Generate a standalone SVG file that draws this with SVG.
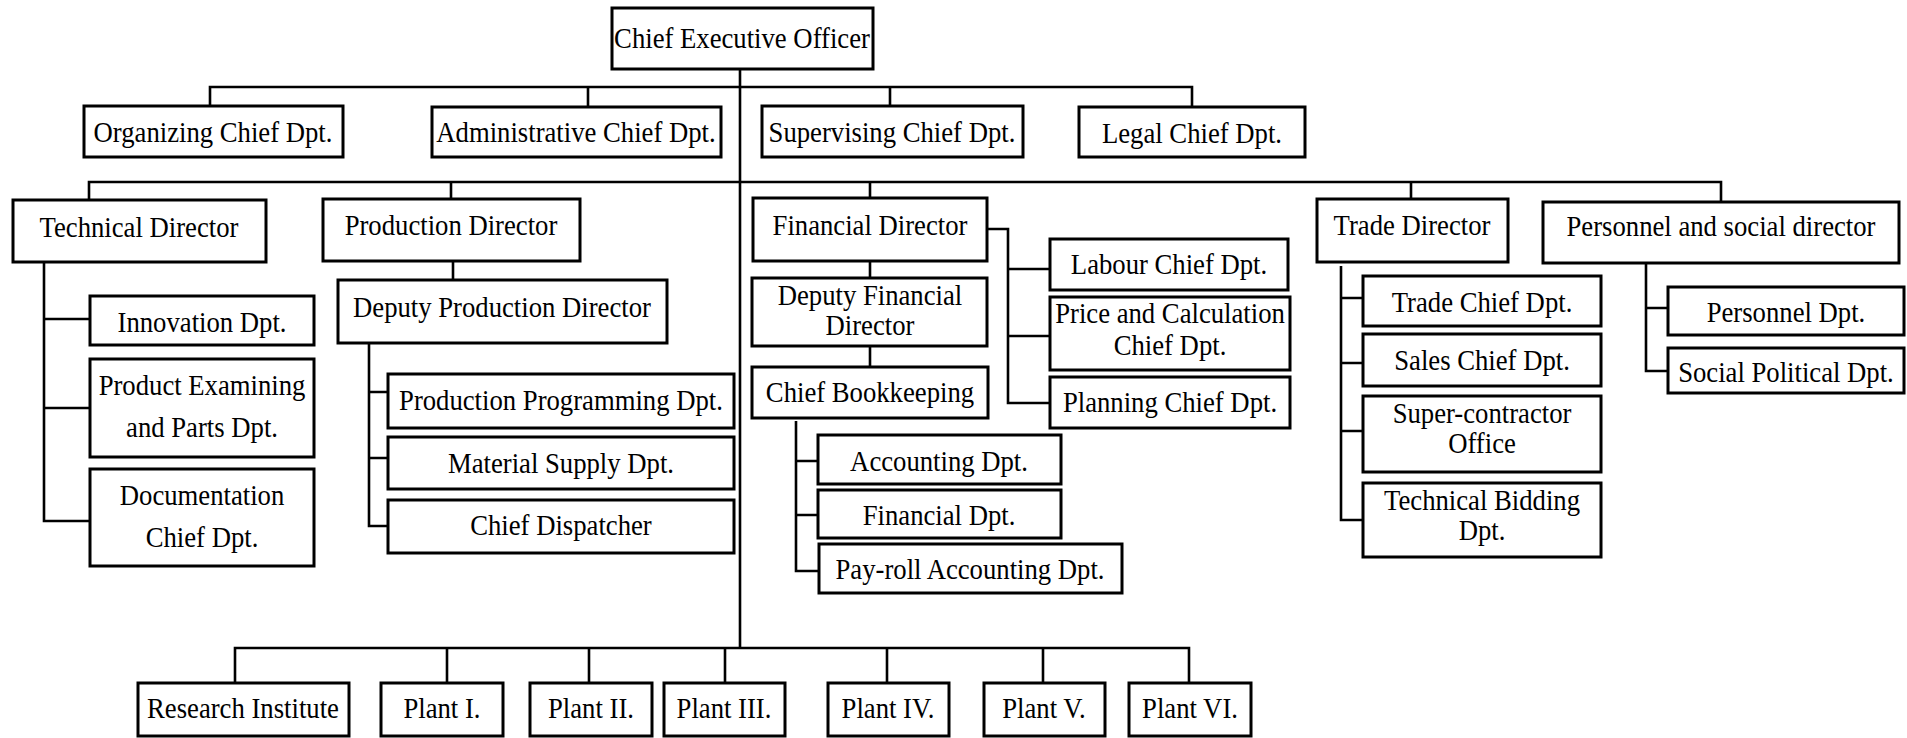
<svg xmlns="http://www.w3.org/2000/svg" width="1907" height="738" viewBox="0 0 1907 738">
<style>
rect{fill:#fff;stroke:#000;stroke-width:3}
text{font-family:"Liberation Serif",serif;font-size:30px;fill:#000;text-anchor:middle}
#connectors path{fill:none;stroke:#000;stroke-width:2.6}
</style>
<rect x="0" y="0" width="1907" height="738" style="stroke:none;fill:#fff"/>
<g id="connectors">
<path d="M740 69V648"/>
<path d="M210 106V87H1192V107M588 87V107M890 87V106"/>
<path d="M89 200V182H1721V202M451 182V199M870 182V198M1411 182V199"/>
<path d="M44 262V521H90M44 319H90M44 408H90"/>
<path d="M453 261V280"/>
<path d="M369 343V526H388M369 392H388M369 458H388"/>
<path d="M870 261V278M870 346V367"/>
<path d="M987 229H1008V403H1050M1008 269H1050M1008 336H1050"/>
<path d="M796 421V571H819M796 461H818M796 515H818"/>
<path d="M1341 266V520H1363M1341 298H1363M1341 363H1363M1341 431H1363"/>
<path d="M1646 263V371H1668M1646 308H1668"/>
<path d="M235 683V648H1189V683M447 648V683M589 648V683M725 648V683M887 648V683M1043 648V683"/>
</g>
<g id="ceo"><rect x="612" y="8" width="261" height="61"/><text transform="scale(0.89,1)" x="833.7" y="48">Chief Executive Officer</text></g>
<g id="organizing"><rect x="84" y="106" width="259" height="51"/><text transform="scale(0.89,1)" x="239.3" y="142">Organizing Chief Dpt.</text></g>
<g id="administrative"><rect x="432" y="107" width="289" height="50"/><text transform="scale(0.89,1)" x="647.2" y="142">Administrative Chief Dpt.</text></g>
<g id="supervising"><rect x="762" y="106" width="261" height="51"/><text transform="scale(0.89,1)" x="1002.2" y="142">Supervising Chief Dpt.</text></g>
<g id="legal"><rect x="1079" y="107" width="226" height="50"/><text transform="scale(0.89,1)" x="1339.3" y="143">Legal Chief Dpt.</text></g>
<g id="technical-director"><rect x="13" y="200" width="253" height="62"/><text transform="scale(0.89,1)" x="156.2" y="237">Technical Director</text></g>
<g id="production-director"><rect x="323" y="199" width="257" height="62"/><text transform="scale(0.89,1)" x="506.7" y="235">Production Director</text></g>
<g id="deputy-production"><rect x="338" y="280" width="329" height="63"/><text transform="scale(0.89,1)" x="564" y="317">Deputy Production Director</text></g>
<g id="innovation"><rect x="90" y="296" width="224" height="49"/><text transform="scale(0.89,1)" x="227" y="332">Innovation Dpt.</text></g>
<g id="product-examining"><rect x="90" y="359" width="224" height="98"/><text transform="scale(0.89,1)" x="227" y="395">Product Examining</text><text transform="scale(0.89,1)" x="227" y="437">and Parts Dpt.</text></g>
<g id="documentation"><rect x="90" y="469" width="224" height="97"/><text transform="scale(0.89,1)" x="227" y="505">Documentation</text><text transform="scale(0.89,1)" x="227" y="547">Chief Dpt.</text></g>
<g id="production-programming"><rect x="388" y="374" width="346" height="54"/><text transform="scale(0.89,1)" x="630.3" y="410">Production Programming Dpt.</text></g>
<g id="material-supply"><rect x="388" y="437" width="346" height="52"/><text transform="scale(0.89,1)" x="630.3" y="473">Material Supply Dpt.</text></g>
<g id="chief-dispatcher"><rect x="388" y="500" width="346" height="53"/><text transform="scale(0.89,1)" x="630.3" y="535">Chief Dispatcher</text></g>
<g id="financial-director"><rect x="753" y="198" width="234" height="63"/><text transform="scale(0.89,1)" x="977.5" y="235">Financial Director</text></g>
<g id="deputy-financial"><rect x="752" y="278" width="235" height="68"/><text transform="scale(0.89,1)" x="977.5" y="305">Deputy Financial</text><text transform="scale(0.89,1)" x="977.5" y="335">Director</text></g>
<g id="chief-bookkeeping"><rect x="752" y="367" width="236" height="51"/><text transform="scale(0.89,1)" x="977.5" y="402">Chief Bookkeeping</text></g>
<g id="labour"><rect x="1050" y="239" width="238" height="51"/><text transform="scale(0.89,1)" x="1313.5" y="274">Labour Chief Dpt.</text></g>
<g id="price-calculation"><rect x="1050" y="297" width="240" height="73"/><text transform="scale(0.89,1)" x="1314.6" y="323">Price and Calculation</text><text transform="scale(0.89,1)" x="1314.6" y="355">Chief Dpt.</text></g>
<g id="planning"><rect x="1050" y="377" width="240" height="51"/><text transform="scale(0.89,1)" x="1314.6" y="412">Planning Chief Dpt.</text></g>
<g id="accounting"><rect x="818" y="435" width="243" height="49"/><text transform="scale(0.89,1)" x="1055.1" y="471">Accounting Dpt.</text></g>
<g id="financial-dpt"><rect x="818" y="490" width="243" height="48"/><text transform="scale(0.89,1)" x="1055.1" y="525">Financial Dpt.</text></g>
<g id="payroll"><rect x="819" y="544" width="303" height="49"/><text transform="scale(0.89,1)" x="1089.9" y="579">Pay-roll Accounting Dpt.</text></g>
<g id="trade-director"><rect x="1317" y="199" width="191" height="63"/><text transform="scale(0.89,1)" x="1586.5" y="235">Trade Director</text></g>
<g id="personnel-director"><rect x="1543" y="202" width="356" height="61"/><text transform="scale(0.89,1)" x="1933.7" y="236">Personnel and social director</text></g>
<g id="trade-chief"><rect x="1363" y="276" width="238" height="50"/><text transform="scale(0.89,1)" x="1665.2" y="312">Trade Chief Dpt.</text></g>
<g id="sales-chief"><rect x="1363" y="334" width="238" height="52"/><text transform="scale(0.89,1)" x="1665.2" y="370">Sales Chief Dpt.</text></g>
<g id="super-contractor"><rect x="1363" y="396" width="238" height="76"/><text transform="scale(0.89,1)" x="1665.2" y="423">Super-contractor</text><text transform="scale(0.89,1)" x="1665.2" y="453">Office</text></g>
<g id="technical-bidding"><rect x="1363" y="483" width="238" height="74"/><text transform="scale(0.89,1)" x="1665.2" y="510">Technical Bidding</text><text transform="scale(0.89,1)" x="1665.2" y="540">Dpt.</text></g>
<g id="personnel-dpt"><rect x="1668" y="287" width="236" height="48"/><text transform="scale(0.89,1)" x="2006.7" y="322">Personnel Dpt.</text></g>
<g id="social-political"><rect x="1668" y="348" width="236" height="45"/><text transform="scale(0.89,1)" x="2006.7" y="382">Social Political Dpt.</text></g>
<g id="research-institute"><rect x="138" y="683" width="211" height="53"/><text transform="scale(0.89,1)" x="273" y="718">Research Institute</text></g>
<g id="plant-1"><rect x="381" y="683" width="122" height="53"/><text transform="scale(0.89,1)" x="496.6" y="718">Plant I.</text></g>
<g id="plant-2"><rect x="530" y="683" width="122" height="53"/><text transform="scale(0.89,1)" x="664" y="718">Plant II.</text></g>
<g id="plant-3"><rect x="664" y="683" width="121" height="53"/><text transform="scale(0.89,1)" x="813.5" y="718">Plant III.</text></g>
<g id="plant-4"><rect x="828" y="683" width="121" height="53"/><text transform="scale(0.89,1)" x="997.8" y="718">Plant IV.</text></g>
<g id="plant-5"><rect x="984" y="683" width="121" height="53"/><text transform="scale(0.89,1)" x="1173" y="718">Plant V.</text></g>
<g id="plant-6"><rect x="1129" y="683" width="122" height="53"/><text transform="scale(0.89,1)" x="1337.1" y="718">Plant VI.</text></g>
</svg>
